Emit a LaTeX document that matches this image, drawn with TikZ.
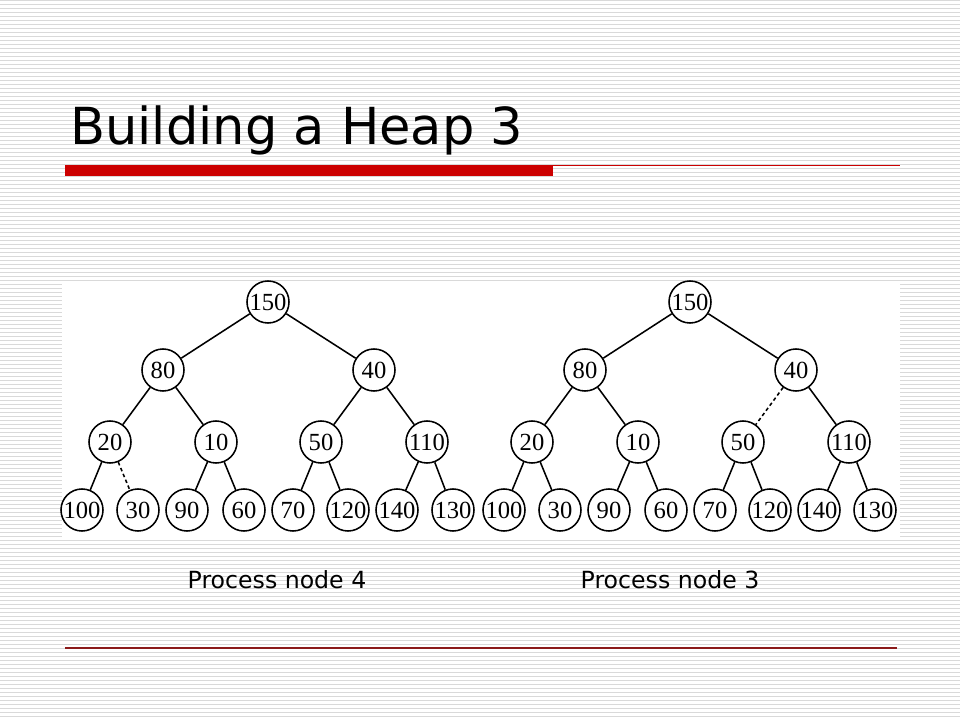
\documentclass[tikz,border=0pt]{standalone}
\usepackage{fontspec}
\setmainfont{Liberation Serif}
\newfontfamily\slidefont{DejaVu Sans}
\usetikzlibrary{positioning}
\definecolor{stripe}{HTML}{D9D9D9}
\definecolor{slidered}{HTML}{CC0000}
\definecolor{rulered}{HTML}{8B1A1A}
\tikzset{
  hnode/.style={draw, circle, line width=1.1pt, minimum size=1.05cm, inner sep=0pt, fill=white, font=\fontsize{17.5}{18}\selectfont},
  hedge/.style={line width=1.1pt},
  swapedge/.style={hedge, dash pattern=on 2.5pt off 2pt},
  caption/.style={font=\slidefont\fontsize{16.8}{18}\selectfont, anchor=base, inner sep=0pt},
}
\begin{document}
\begin{tikzpicture}[x=0.025cm, y=-0.025cm]
        \useasboundingbox (0,0) rectangle (960,720);
        % striped slide background
        \fill[white] (0,0) rectangle (960,720);
        \foreach \y in {0,4,...,716} \fill[stripe] (0,\y) rectangle (960,\y+1.3);
        % title and rules
        \node[anchor=base west, inner sep=0pt, font=\slidefont\fontsize{36.3}{40}\selectfont] (title) at (70,145) {Building a Heap 3};
        \fill[slidered] (65,165) rectangle (553,176);
        \draw[slidered, line width=0.7pt] (553,165.5) -- (900,165.5);
        \draw[rulered, line width=1.4pt] (65,648) -- (897,648);
        \fill[white] (62,282) rectangle (900,537);
        % both trees, same values
        \foreach \t/\dx in {a/0,b/422} {
          \foreach \i/\x/\y/\v in {1/268/302/150, 2/163/370/80, 3/374/370/40,
              4/110/442/20, 5/216/442/10, 6/321/442/50, 7/427/442/110,
              8/82/510/100, 9/138/510/30, 10/187/510/90, 11/244/510/60,
              12/293/510/70, 13/348/510/120, 14/397/510/140, 15/453/510/130}
            \node[hnode] (\t\i) at (\x+\dx,\y) {\v};
        }
        % left tree: node 4 processed
        \foreach \p/\c in {1/2,1/3,2/4,2/5,3/6,3/7,4/8,5/10,5/11,6/12,6/13,7/14,7/15}
          \draw[hedge] (a\p) -- (a\c);
        \draw[swapedge] (a4) -- (a9);
        % right tree: node 3 processed
        \foreach \p/\c in {1/2,1/3,2/4,2/5,3/7,4/8,4/9,5/10,5/11,6/12,6/13,7/14,7/15}
          \draw[hedge] (b\p) -- (b\c);
        \draw[swapedge] (b3) -- (b6);
        \node[caption] (capa) at (277,588) {Process node 4};
        \node[caption] (capb) at (670,588) {Process node 3};
      \end{tikzpicture}
\end{document}
